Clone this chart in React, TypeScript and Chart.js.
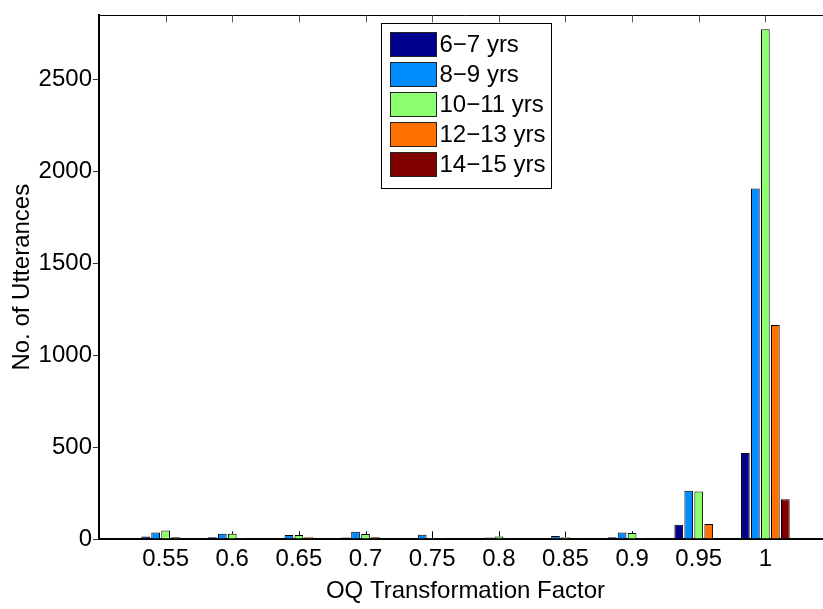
import React, { useEffect, useRef } from 'react';
import { Chart, registerables } from 'chart.js';

Chart.register(...registerables);

const categories = ['0.55', '0.6', '0.65', '0.7', '0.75', '0.8', '0.85', '0.9', '0.95', '1'];
const axisLabels = ['0.5', ...categories, '1.05'];

const seriesNames = ['6\u22127 yrs', '8\u22129 yrs', '10\u221211 yrs', '12\u221213 yrs', '14\u221215 yrs'];
const seriesColors = ['#00008f', '#008cff', '#8cff6e', '#ff7000', '#800000'];

const yrs6to7 = [14, 10, 4, 8, 2, 2, 2, 10, 77, 468];
const yrs8to9 = [36, 28, 22, 39, 23, 8, 16, 35, 262, 1908];
const yrs10to11 = [46, 28, 22, 27, 5, 14, 10, 32, 258, 2774];
const yrs12to13 = [9, 5, 10, 9, 5, 1, 1, 6, 82, 1165];
const yrs14to15 = [1, 0, 0, 0, 0, 0, 0, 1, 3, 217];

// upper ends of the thin vertical lines above the 10-11 yrs bars
const greenUpper = [null, 42, 42, 42, 42, 42, 40, 42, null, null];

const yTicks = [0, 500, 1000, 1500, 2000, 2500];
const yMax = 2850;

const FONT = "'Liberation Sans', Arial, Helvetica, sans-serif";
const FS = 24;

export default function App() {
  const ref = useRef<HTMLCanvasElement>(null);

  useEffect(() => {
    const series = [yrs6to7, yrs8to9, yrs10to11, yrs12to13, yrs14to15];

    const overlay = {
      id: 'overlay',
      afterDraw(chart: any) {
        const { ctx, chartArea: ca } = chart;
        const xs = chart.scales.x;
        const ys = chart.scales.y;
        ctx.save();
        // whisker lines above 10-11 bars
        const meta = chart.getDatasetMeta(2);
        ctx.strokeStyle = '#000';
        ctx.lineWidth = 1;
        greenUpper.forEach((u, i) => {
          if (u == null) return;
          const el = meta.data[i];
          if (!el) return;
          const yTop = ys.getPixelForValue(u);
          const x = Math.round(el.x) + 0.5;
          ctx.beginPath();
          ctx.moveTo(x, el.y);
          ctx.lineTo(x, yTop);
          ctx.stroke();
        });
        // top border
        ctx.strokeStyle = '#000';
        ctx.lineWidth = 1;
        ctx.beginPath();
        ctx.moveTo(ca.left, Math.round(ca.top) + 0.5);
        ctx.lineTo(ca.right, Math.round(ca.top) + 0.5);
        ctx.stroke();
        // top inward ticks
        ctx.strokeStyle = '#555';
        for (let i = 1; i < axisLabels.length - 1; i++) {
          const x = Math.round(xs.getPixelForTick(i)) + 0.5;
          ctx.beginPath();
          ctx.moveTo(x, ca.top);
          ctx.lineTo(x, ca.top + 7);
          ctx.stroke();
        }
        // legend
        const boxW = 170;
        const boxH = 165;
        const bx = Math.round((ca.left + ca.right) / 2 - boxW / 2) + 0.5;
        const by = Math.round(ca.top + 8) + 0.5;
        ctx.fillStyle = '#fff';
        ctx.fillRect(bx, by, boxW, boxH);
        ctx.strokeStyle = '#000';
        ctx.strokeRect(bx, by, boxW, boxH);
        ctx.font = `${FS}px ${FONT}`;
        ctx.textAlign = 'left';
        ctx.textBaseline = 'middle';
        seriesNames.forEach((name, i) => {
          const cy = by + 21 + 30 * i;
          ctx.fillStyle = seriesColors[i];
          ctx.fillRect(bx + 9, cy - 12, 46, 24);
          ctx.strokeStyle = '#222';
          ctx.strokeRect(bx + 9, cy - 12, 46, 24);
          ctx.fillStyle = '#000';
          ctx.fillText(name, bx + 58, cy + 1);
        });
        ctx.restore();
      },
    };

    const chart = new Chart(ref.current!, {
      type: 'bar',
      data: {
        labels: axisLabels,
        datasets: seriesNames.map((name, s) => ({
          label: name,
          data: categories.map((c, i) => ({ x: c, y: series[s][i] })),
          backgroundColor: seriesColors[s],
          borderColor: '#000',
          borderWidth: 1,
          categoryPercentage: 0.75,
          barPercentage: 0.87,
        })),
      },
      options: {
        responsive: false,
        animation: false,
        layout: { padding: { top: 11, right: 8, left: 0, bottom: 0 } },
        plugins: { legend: { display: false }, tooltip: { enabled: false } },
        scales: {
          x: {
            type: 'category',
            offset: false,
            z: 1,
            grid: { display: true, drawOnChartArea: false, drawTicks: false },
            border: { display: true, color: '#000', width: 2 },
            ticks: {
              autoSkip: false,
              maxRotation: 0,
              padding: 6,
              color: '#000',
              font: { size: FS, family: FONT },
              callback: (_v: any, i: number) =>
                i === 0 || i === axisLabels.length - 1 ? '' : axisLabels[i],
            },
            title: {
              display: true,
              text: 'OQ Transformation Factor',
              color: '#000',
              font: { size: FS, family: FONT },
              padding: { top: 0, bottom: 3 },
            },
            afterFit: (s: any) => {
              s.height = 70;
            },
          },
          y: {
            min: 0,
            max: yMax,
            z: 1,
            grid: { drawOnChartArea: false, drawTicks: true, tickLength: 6, color: '#333' },
            border: { display: true, color: '#000', width: 2 },
            afterBuildTicks: (s: any) => {
              s.ticks = yTicks.map((v) => ({ value: v }));
            },
            ticks: {
              padding: 1,
              color: '#000',
              font: { size: FS, family: FONT },
              callback: (v: any) => String(v),
            },
            title: {
              display: true,
              text: 'No. of Utterances',
              color: '#000',
              font: { size: FS, family: FONT },
              padding: { top: 8, bottom: 0 },
            },
            afterFit: (s: any) => {
              s.width = 99;
            },
          },
        },
      } as any,
      plugins: [overlay],
    });
    return () => chart.destroy();
  }, []);

  return (
    <div
      style={{
        position: 'fixed',
        left: 0,
        top: 0,
        width: 823,
        height: 609,
        overflow: 'hidden',
        background: '#fff',
      }}
    >
      <canvas ref={ref} width={840} height={609} style={{ display: 'block' }} />
    </div>
  );
}
